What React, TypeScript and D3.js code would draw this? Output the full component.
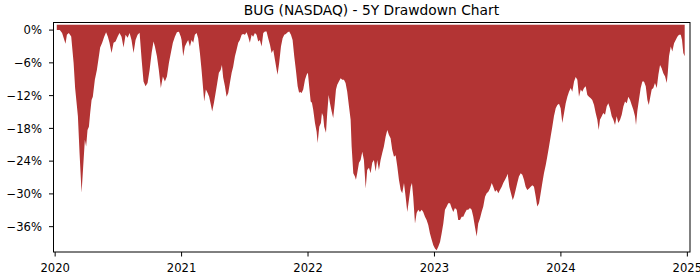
import React from "react";
import * as d3 from "d3";

const TITLE = "BUG (NASDAQ) - 5Y Drawdown Chart";

// Dates as fractional years
const years: number[] = [
  2020.013, 2020.037, 2020.055, 2020.082, 2020.093, 2020.108, 2020.127, 2020.146, 2020.158, 2020.180,
  2020.193, 2020.209, 2020.225, 2020.235, 2020.245, 2020.256, 2020.267, 2020.277, 2020.288, 2020.298,
  2020.314, 2020.330, 2020.346, 2020.356, 2020.372, 2020.388, 2020.403, 2020.417, 2020.430, 2020.446,
  2020.462, 2020.478, 2020.494, 2020.509, 2020.525, 2020.541, 2020.557, 2020.573, 2020.589, 2020.604,
  2020.620, 2020.636, 2020.652, 2020.668, 2020.684, 2020.699, 2020.715, 2020.731, 2020.747, 2020.763,
  2020.778, 2020.789, 2020.805, 2020.820, 2020.836, 2020.852, 2020.868, 2020.884, 2020.900, 2020.915,
  2020.931, 2020.947, 2020.963, 2020.979, 2020.994,
  2021.000, 2021.013, 2021.026, 2021.040, 2021.052, 2021.066, 2021.079, 2021.092, 2021.105, 2021.119,
  2021.131, 2021.145, 2021.158, 2021.171, 2021.179, 2021.192, 2021.206, 2021.218, 2021.232, 2021.242,
  2021.256, 2021.269, 2021.282, 2021.295, 2021.309, 2021.319, 2021.329, 2021.343, 2021.356, 2021.369,
  2021.382, 2021.396, 2021.408, 2021.422, 2021.435, 2021.448, 2021.461, 2021.475, 2021.487, 2021.501,
  2021.514, 2021.527, 2021.540, 2021.554, 2021.566, 2021.580, 2021.593, 2021.606, 2021.619, 2021.633,
  2021.646, 2021.659, 2021.672, 2021.685, 2021.699, 2021.712, 2021.725, 2021.738, 2021.752, 2021.759,
  2021.772, 2021.786, 2021.799, 2021.812, 2021.825, 2021.839, 2021.851, 2021.865, 2021.878, 2021.891,
  2021.904, 2021.918, 2021.930, 2021.936, 2021.949, 2021.962, 2021.976, 2021.989, 2021.999,
  2022.009, 2022.021, 2022.031, 2022.041, 2022.055, 2022.068, 2022.076, 2022.089, 2022.102, 2022.110,
  2022.120, 2022.128, 2022.142, 2022.152, 2022.163, 2022.173, 2022.187, 2022.199, 2022.210, 2022.221,
  2022.231, 2022.244, 2022.258, 2022.271, 2022.284, 2022.297, 2022.310, 2022.324, 2022.337, 2022.345,
  2022.358, 2022.371, 2022.379, 2022.389, 2022.403, 2022.416, 2022.429, 2022.442, 2022.456, 2022.468,
  2022.482, 2022.495, 2022.508, 2022.521, 2022.535, 2022.547, 2022.561, 2022.574, 2022.587, 2022.600,
  2022.614, 2022.627, 2022.640, 2022.653, 2022.666, 2022.680, 2022.693, 2022.706, 2022.719, 2022.733,
  2022.745, 2022.759, 2022.772, 2022.785, 2022.798, 2022.812, 2022.822, 2022.832, 2022.846, 2022.859,
  2022.872, 2022.885, 2022.899, 2022.911, 2022.925, 2022.938, 2022.951, 2022.964, 2022.978, 2022.991,
  2023.004, 2023.017, 2023.030, 2023.044, 2023.057, 2023.070, 2023.083, 2023.097, 2023.109, 2023.123,
  2023.136, 2023.149, 2023.162, 2023.176, 2023.188, 2023.202, 2023.215, 2023.228, 2023.241, 2023.255,
  2023.267, 2023.281, 2023.294, 2023.307, 2023.320, 2023.334, 2023.346, 2023.360, 2023.373, 2023.386,
  2023.400, 2023.413, 2023.426, 2023.439, 2023.453, 2023.465, 2023.479, 2023.492, 2023.505, 2023.518,
  2023.532, 2023.544, 2023.558, 2023.571, 2023.579, 2023.592, 2023.605, 2023.619, 2023.629, 2023.642,
  2023.655, 2023.668, 2023.682, 2023.695, 2023.708, 2023.721, 2023.734, 2023.748, 2023.761, 2023.774,
  2023.787, 2023.801, 2023.813, 2023.827, 2023.840, 2023.853, 2023.866, 2023.880, 2023.892, 2023.906,
  2023.919, 2023.932, 2023.945, 2023.959, 2023.972, 2023.985, 2023.998,
  2024.011, 2024.025, 2024.038, 2024.051, 2024.064, 2024.078, 2024.090, 2024.104, 2024.117, 2024.130,
  2024.143, 2024.157, 2024.169, 2024.183, 2024.196, 2024.209, 2024.222, 2024.236, 2024.248, 2024.262,
  2024.275, 2024.288, 2024.299, 2024.309, 2024.323, 2024.335, 2024.349, 2024.362, 2024.375, 2024.388,
  2024.402, 2024.415, 2024.428, 2024.441, 2024.454, 2024.468, 2024.481, 2024.494, 2024.507, 2024.521,
  2024.533, 2024.547, 2024.560, 2024.573, 2024.586, 2024.594, 2024.604, 2024.617, 2024.631, 2024.644,
  2024.657, 2024.671, 2024.684, 2024.695, 2024.705, 2024.718, 2024.731, 2024.744, 2024.758, 2024.771,
  2024.784, 2024.797, 2024.810, 2024.824, 2024.837, 2024.845, 2024.855, 2024.869, 2024.881, 2024.895,
  2024.908, 2024.921, 2024.934, 2024.948, 2024.958, 2024.968, 2024.979,
];

// Drawdown in percent
const drawdown: number[] = [
  0.0, 0.0, -0.55, -2.5, -0.86, -0.55, -1.17, -6.0, -10.6, -15.8,
  -22.5, -29.8, -23.8, -20.1, -21.3, -18.3, -17.7, -15.2, -12.8, -12.2,
  -9.1, -7.3, -4.8, -3.2, -2.3, -1.2, -0.4, -1.2, -2.3, -4.2,
  -2.3, -2.1, -1.2, -0.55, -1.2, -3.2, -0.86, -1.4, -0.55, -1.8,
  -4.2, -1.8, -0.86, -0.5, -5.4, -9.4, -10.3, -9.7, -7.3, -4.2,
  -2.1, -3.0, -4.8, -7.3, -10.6, -8.5, -9.4, -8.5, -6.0, -4.2,
  -2.3, -1.2, -0.4, -0.3, -1.2,
  -1.8, -4.8, -3.0, -2.3, -1.8, -3.0, -1.8, -2.3, -0.86, -0.55,
  -1.5, -4.2, -7.3, -10.9, -13.1, -10.9, -11.5, -12.2, -13.7, -14.9,
  -13.3, -11.5, -9.7, -7.8, -7.3, -6.4, -8.7, -10.3, -12.2, -11.5,
  -9.7, -7.8, -6.7, -4.8, -3.6, -2.3, -1.8, -0.86, -0.7, -0.86,
  -0.4, -1.2, -2.3, -0.86, -1.2, -0.55, -0.86, -2.1, -1.8, -3.0,
  -0.55, -0.26, -0.26, -1.5, -2.7, -4.2, -3.6, -5.4, -7.3, -8.2,
  -6.0, -3.0, -1.5, -0.86, -0.7, -0.4, -0.26, -0.86, -1.8, -4.8,
  -7.3, -10.3, -11.5, -11.3, -11.5, -10.9, -9.1, -8.2, -7.8,
  -10.3, -13.1, -13.3, -14.6, -17.0, -18.6, -20.7, -17.7, -17.0, -15.2,
  -15.8, -17.7, -18.8, -15.2, -11.9, -13.3, -14.9, -16.1, -13.7, -10.9,
  -10.0, -9.4, -8.8, -9.1, -9.1, -9.7, -11.3, -14.0, -16.4, -21.3,
  -26.2, -26.8, -27.4, -26.2, -24.3, -23.8, -22.3, -23.8, -29.0, -25.6,
  -25.2, -26.2, -24.3, -23.8, -25.9, -23.8, -25.6, -23.8, -22.5, -21.3,
  -19.5, -18.3, -19.2, -19.8, -21.9, -23.2, -22.9, -25.0, -27.4, -29.3,
  -29.9, -28.0, -30.5, -33.3, -31.1, -28.7, -28.0, -30.5, -35.4, -33.5,
  -32.9, -33.3, -32.9, -33.3, -34.2, -34.8, -35.7, -37.2, -38.4, -39.4,
  -40.0, -40.3, -39.7, -38.8, -37.2, -35.4, -32.9, -32.3, -31.7, -31.7,
  -32.6, -33.3, -32.6, -32.9, -34.8, -34.8, -34.2, -34.2, -33.5, -32.9,
  -32.9, -32.6, -32.9, -34.2, -36.0, -37.8, -35.4, -34.5, -33.3, -32.3,
  -30.5, -29.9, -29.6, -29.0, -28.0, -28.7, -29.6, -29.3, -29.9, -29.3,
  -28.7, -28.0, -27.4, -26.8, -26.3, -28.7, -29.9, -31.1, -30.5, -29.3,
  -28.0, -26.8, -26.2, -26.5, -27.4, -28.7, -29.3, -29.0, -28.7, -28.4,
  -28.7, -30.5, -32.3, -31.7, -29.9, -28.0, -26.2, -24.7, -23.2, -21.3,
  -19.5, -17.7, -15.8, -14.3, -13.7, -13.5, -14.3,
  -17.0, -15.2, -13.4, -12.2, -11.3, -10.6, -11.3, -9.4, -8.6, -9.1,
  -12.2, -10.9, -11.3, -10.6, -10.3, -11.9, -12.2, -12.5, -12.8, -13.7,
  -15.2, -16.4, -18.3, -16.4, -15.8, -15.2, -15.5, -14.0, -13.4, -14.3,
  -15.8, -16.4, -17.4, -15.8, -17.0, -16.4, -15.5, -14.0, -13.1, -13.4,
  -12.2, -12.8, -13.7, -14.6, -15.8, -17.4, -14.9, -12.8, -10.6, -9.4,
  -9.4, -10.3, -12.8, -13.7, -12.5, -10.9, -10.6, -9.7, -10.6, -8.2,
  -6.4, -7.0, -7.9, -8.5, -9.7, -7.9, -4.8, -3.0, -3.9, -2.4,
  -1.8, -1.2, -0.86, -0.86, -1.8, -4.2, -4.8,
];

const yTicks: number[] = [0, -6, -12, -18, -24, -30, -36];
const xTicks: number[] = [2020, 2021, 2022, 2023, 2024, 2025];

const W = 700;
const H = 280;
const L = 53.5;
const R = 690;
const T = 22.5;
const B = 252;
const FILL_TOP = 1.0;
const FONT = "DejaVu Sans, sans-serif";

export default function App() {
  const x = d3.scaleLinear().domain([2019.987, 2025.021]).range([L, R]);
  const y = d3.scaleLinear().domain([1.39, -40.64]).range([T, B]);
  const data = years.map((t, i) => ({ t, v: drawdown[i] }));
  const area = d3
    .area<{ t: number; v: number }>()
    .x((d) => x(d.t))
    .y0(() => y(FILL_TOP))
    .y1((d) => y(d.v));
  const fmt = (v: number) => (v < 0 ? "\u2212" + Math.abs(v) : String(v)) + "%";

  return (
    <div style={{ position: "fixed", left: 0, top: 0 }}>
      <svg width={W} height={H} style={{ display: "block", background: "#fff" }}>
        <path d={area(data) || ""} fill="#b33434" stroke="none" />
        <rect x={L} y={T} width={R - L} height={B - T} fill="none" stroke="#000" strokeWidth={1} />
        {yTicks.map((v) => (
          <g key={"y" + v}>
            <line x1={L - 4.5} x2={L} y1={y(v)} y2={y(v)} stroke="#000" strokeWidth={1} />
            <text x={42} y={y(v)} dy="0.36em" textAnchor="end" fontSize={11.6} fontFamily={FONT} fill="#000">
              {fmt(v)}
            </text>
          </g>
        ))}
        {xTicks.map((t) => (
          <g key={"x" + t}>
            <line x1={x(t)} x2={x(t)} y1={B} y2={B + 4.5} stroke="#000" strokeWidth={1} />
            <text x={x(t)} y={B + 19.5} textAnchor="middle" fontSize={11.6} fontFamily={FONT} fill="#000">
              {t}
            </text>
          </g>
        ))}
        <text x={371.5} y={15.3} textAnchor="middle" fontSize={13.8} fontFamily={FONT} fill="#000">
          {TITLE}
        </text>
      </svg>
    </div>
  );
}
